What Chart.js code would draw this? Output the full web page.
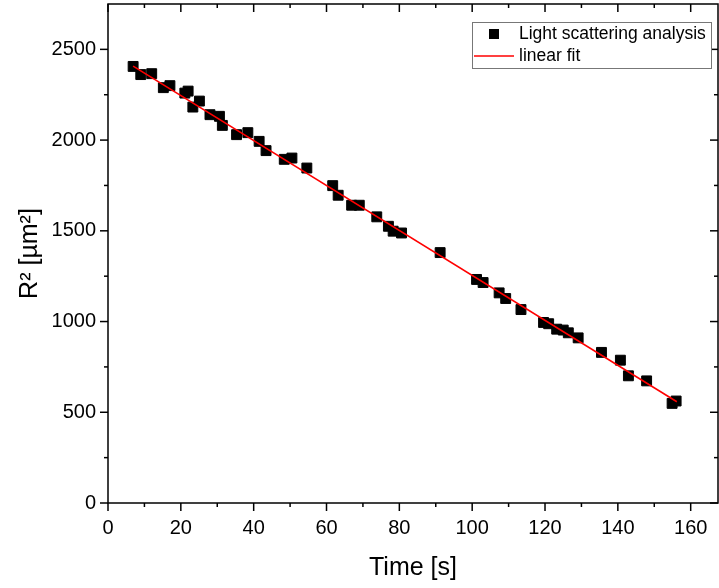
<!DOCTYPE html>
<html>
<head>
<meta charset="utf-8">
<title>R2 vs time</title>
<script src="https://cdn.jsdelivr.net/npm/chart.js@4.4.0/dist/chart.umd.min.js"></script>
<style>
  html, body { margin: 0; padding: 0; background: #fff; }
  #chart { display: block; }
</style>
</head>
<body>
<canvas id="chart" width="719" height="588"></canvas>
<script>
// measured points (time in s, R^2 in um^2)
const timeS = [6.9, 9.0, 12.0, 15.2, 17.0, 21.1, 22.0, 23.3, 25.1, 28.0, 30.6, 31.4,
  35.3, 38.4, 41.5, 43.4, 48.4, 50.5, 54.6, 61.7, 63.2, 66.9, 69.0, 73.8, 77.0, 78.3,
  80.6, 91.2, 101.2, 103.0, 107.4, 109.2, 113.4, 119.6, 121.0, 123.2, 125.0, 126.4,
  129.1, 135.5, 140.7, 142.9, 147.9, 154.9, 156.0];
const r2Values = [2406, 2361, 2366, 2289, 2300, 2259, 2270, 2182, 2215, 2140, 2131, 2081,
  2030, 2041, 1993, 1942, 1894, 1901, 1846, 1749, 1696, 1641, 1641, 1577, 1525, 1498,
  1488, 1380, 1232, 1215, 1158, 1127, 1066, 995, 988, 958, 953, 938,
  910, 830, 787, 701, 673, 549, 562];

// linear fit end points
const fitTime = [6.9, 156.2];
const fitR2 = [2408, 558];

const xMajorTicks = [0, 20, 40, 60, 80, 100, 120, 140, 160];
const xMinorTicks = [10, 30, 50, 70, 90, 110, 130, 150];
const yMajorTicks = [0, 500, 1000, 1500, 2000, 2500];
const yMinorTicks = [250, 750, 1250, 1750, 2250];

const seriesNames = ['Light scattering analysis', 'linear fit'];

const FONT = "'Liberation Sans', Arial, sans-serif";

// frame + ticks drawn like Origin: outward on bottom/left, inward on top/right
const frameTicks = {
    id: 'frameTicks',
    afterDraw(chart) {
        const { ctx, chartArea: a, scales } = chart;
        const sx = scales.x, sy = scales.y;
        ctx.save();
        ctx.strokeStyle = '#000';
        ctx.lineWidth = 1.5;
        ctx.strokeRect(a.left, a.top, a.right - a.left, a.bottom - a.top);
        const seg = (x1, y1, x2, y2) => {
            ctx.beginPath(); ctx.moveTo(x1, y1); ctx.lineTo(x2, y2); ctx.stroke();
        };
        const xt = (vals, len) => vals.forEach(v => {
            const px = sx.getPixelForValue(v);
            seg(px, a.bottom, px, a.bottom + len);
            seg(px, a.top, px, a.top + len);
        });
        const yt = (vals, len) => vals.forEach(v => {
            const py = sy.getPixelForValue(v);
            seg(a.left - len, py, a.left, py);
            seg(a.right - len, py, a.right, py);
        });
        xt(xMajorTicks, 8); xt(xMinorTicks, 4);
        yt(yMajorTicks, 8); yt(yMinorTicks, 4);
        ctx.restore();
    }
};

// boxed legend in the top right corner
const boxLegend = {
    id: 'boxLegend',
    afterDraw(chart) {
        const { ctx, chartArea: a } = chart;
        const w = 239, h = 46;
        const bx = a.right - 7 - w, by = a.top + 18;
        ctx.save();
        ctx.fillStyle = '#fff';
        ctx.fillRect(bx, by, w, h);
        ctx.strokeStyle = '#777';
        ctx.lineWidth = 1;
        ctx.strokeRect(bx + 0.5, by + 0.5, w, h);
        ctx.fillStyle = '#000';
        ctx.fillRect(bx + 17, by + 7, 10, 10);
        ctx.strokeStyle = '#ff0000';
        ctx.lineWidth = 1.5;
        ctx.beginPath(); ctx.moveTo(bx + 2, by + 34); ctx.lineTo(bx + 42, by + 34); ctx.stroke();
        ctx.fillStyle = '#000';
        ctx.font = '17.5px ' + FONT;
        ctx.textBaseline = 'middle';
        ctx.fillText(seriesNames[0], bx + 47, by + 12);
        ctx.fillText(seriesNames[1], bx + 47, by + 34);
        ctx.restore();
    }
};

// no extra room for overhanging tick labels
const noPad = s => { s.paddingTop = 0; s.paddingBottom = 0; s.paddingLeft = 0; s.paddingRight = 0; };

const ctx = document.getElementById('chart');
new Chart(ctx, {
    type: 'scatter',
    data: {
        datasets: [{
            label: seriesNames[1],
            type: 'line',
            data: fitTime.map((t, i) => ({ x: t, y: fitR2[i] })),
            borderColor: '#ff0000',
            borderWidth: 1.6,
            pointRadius: 0,
            fill: false,
            order: 0
        }, {
            label: seriesNames[0],
            data: timeS.map((t, i) => ({ x: t, y: r2Values[i] })),
            pointStyle: 'rect',
            pointRadius: 7,
            backgroundColor: '#000',
            borderColor: '#000',
            borderWidth: 1,
            order: 1
        }]
    },
    options: {
        responsive: false,
        animation: false,
        layout: { autoPadding: false, padding: { top: 4, right: 1, left: 0, bottom: 0 } },
        plugins: { legend: { display: false }, tooltip: { enabled: false } },
        scales: {
            x: {
                type: 'linear',
                min: 0,
                max: 167.5,
                grid: { display: false, drawTicks: false },
                border: { display: false },
                afterBuildTicks: s => { s.ticks = xMajorTicks.map(v => ({ value: v })); },
                ticks: {
                    autoSkip: false,
                    maxRotation: 0,
                    padding: 13,
                    color: '#000',
                    font: { family: FONT, size: 20 },
                    callback: v => String(v)
                },
                title: {
                    display: true,
                    text: 'Time [s]',
                    color: '#000',
                    font: { family: FONT, size: 25 },
                    padding: { top: 0, bottom: 5 }
                },
                afterFit: s => { s.height = 85; noPad(s); }
            },
            y: {
                type: 'linear',
                min: 0,
                max: 2750,
                grid: { display: false, drawTicks: false },
                border: { display: false },
                afterBuildTicks: s => { s.ticks = yMajorTicks.map(v => ({ value: v })); },
                ticks: {
                    autoSkip: false,
                    padding: 12,
                    color: '#000',
                    font: { family: FONT, size: 20 },
                    callback: v => String(v)
                },
                title: {
                    display: true,
                    text: 'R² [µm²]',
                    color: '#000',
                    font: { family: FONT, size: 25 },
                    padding: { top: 15, bottom: 0 }
                },
                afterFit: s => { s.width = 108; noPad(s); }
            }
        }
    },
    plugins: [frameTicks, boxLegend]
});
</script>
</body>
</html>
